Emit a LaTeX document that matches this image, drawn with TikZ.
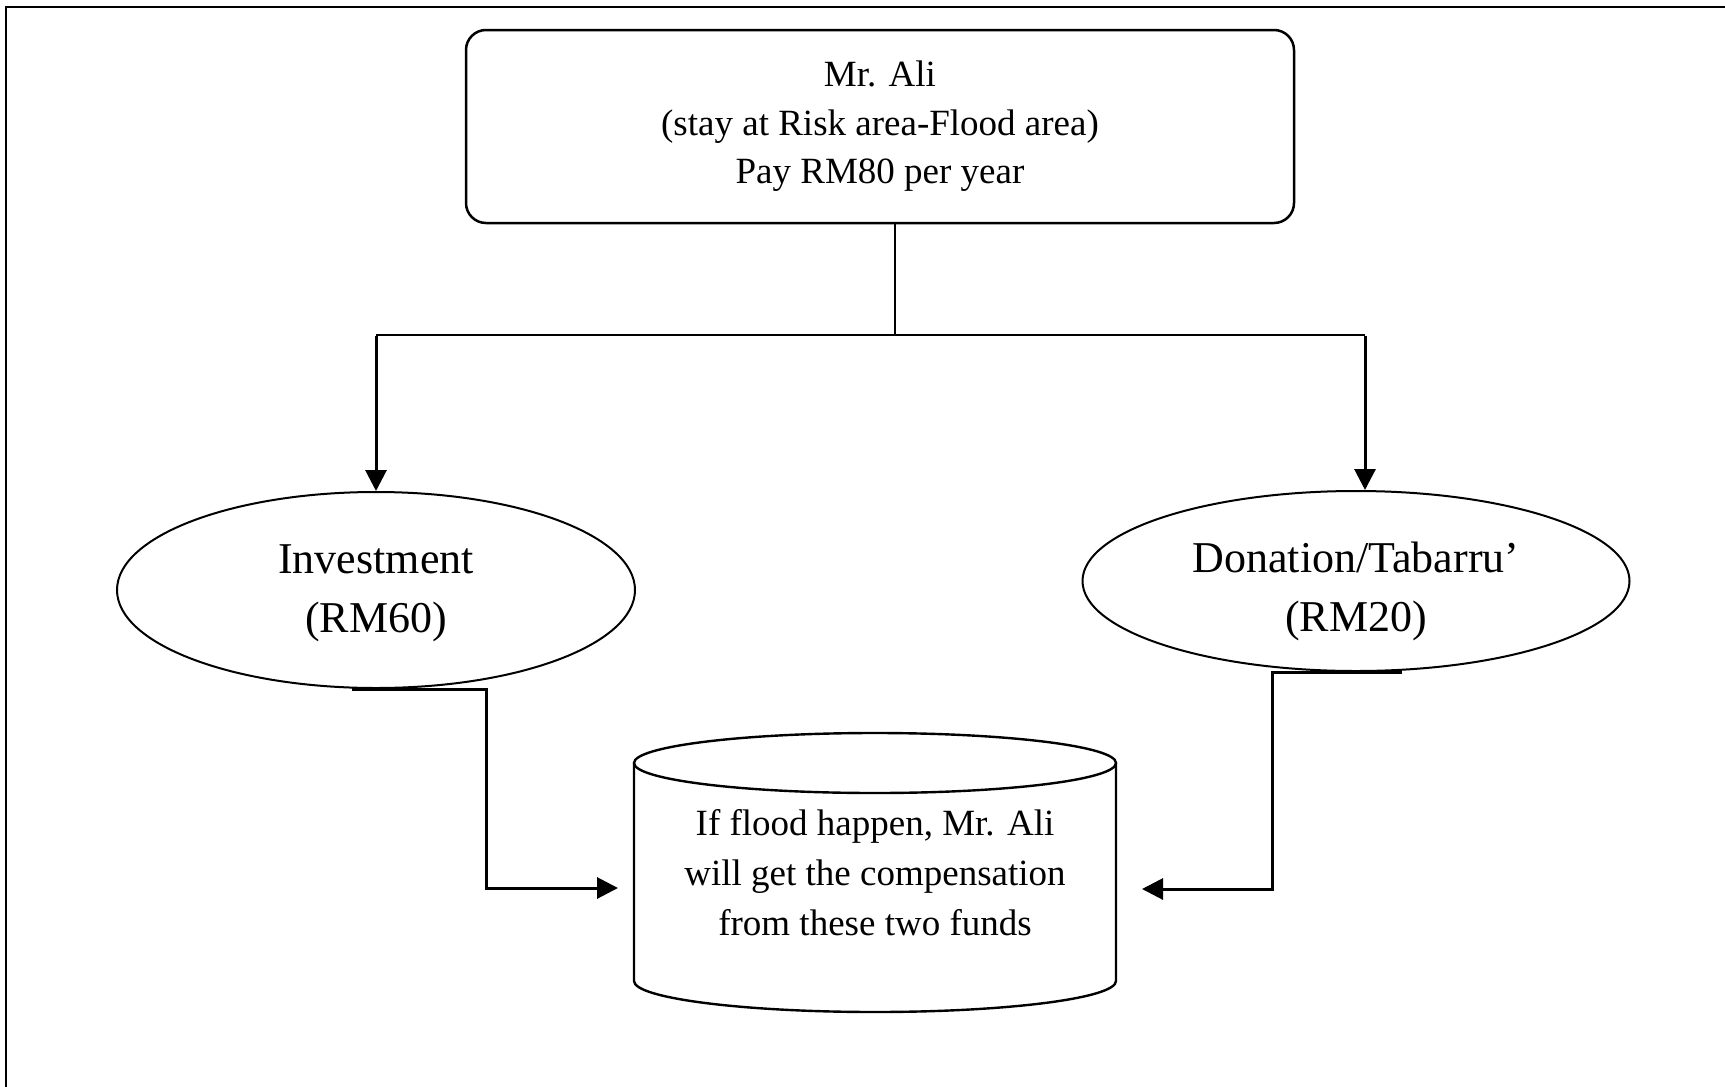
\documentclass[tikz,border=0pt]{standalone}
\usepackage{fontspec}
\setmainfont{Liberation Serif}
\usetikzlibrary{arrows.meta,shapes.geometric}

\begin{document}
\begin{tikzpicture}[x=0.5pt,y=-0.5pt,
  boxtext/.style={font=\fontsize{18.5}{24.2}\selectfont, align=center},
  roundbox/.style={draw, line width=1.25pt, rounded corners=10pt, inner sep=0pt},
  fundoval/.style={draw, ellipse, line width=1pt, inner sep=0pt},
  ovaltext/.style={font=\fontsize{22}{29.5}\selectfont, align=center, inner sep=0pt},
  link/.style={line width=1pt},
  arr/.style={line width=1.5pt, -{Triangle[length=10.5pt,width=10.5pt]}},
  feed/.style={line width=1.5pt, -{Triangle[length=10.5pt,width=10.5pt]}}
]
\useasboundingbox (0,0) rectangle (1725,1087);
\fill[white] (0,0) rectangle (1725,1087);

% page frame (top and left edges)
\draw[line width=1pt] (6,1087) -- (6,7) -- (1725,7);

% contributor
\node[roundbox, boxtext, minimum width=414pt, minimum height=96.5pt] (ali) at (880,126.5)
  {Mr. Ali\\(stay at Risk area-Flood area)\\Pay RM80 per year};

% the two funds
\node[fundoval, minimum width=259pt, minimum height=98pt] (inv) at (376,590) {};
\node[ovaltext] (invtext) at ([yshift=-1.5pt]inv.center) {Investment\\(RM60)};
\node[fundoval, minimum width=273.5pt, minimum height=90pt] (don) at (1356,581) {};
\node[ovaltext] (dontext) at ([yshift=-5pt]don.center) {Donation/Tabarru’\\(RM20)};

% compensation store (cylinder body holds the text)
\node[boxtext, font=\fontsize{18.5}{25}\selectfont, minimum width=241pt, minimum height=109pt, inner sep=0pt]
  (fund) at (875,873)
  {If flood happen, Mr. Ali\\will get the compensation\\from these two funds};
\draw[line width=1.2pt]
  (875,763) ellipse[x radius=241, y radius=30];
\draw[line width=1.2pt]
  (634,763) -- (634,981)
  arc[start angle=180, end angle=0, x radius=241, y radius=31]
  -- (1116,763);

% split of the payment
\coordinate (split) at (895,335);
\coordinate (lsplit) at (376,335);
\coordinate (rsplit) at (1365,335);
\draw[link] ([xshift=7.5pt]ali.south) -- (split);
\draw[link] (lsplit) -- (rsplit);
\draw[arr] ([yshift=-0.5pt]lsplit) -- (inv.north);
\draw[arr] ([yshift=-0.5pt]rsplit) -- (rsplit |- don.north);

% feeds into the store
\coordinate (lbend) at (486,888);
\coordinate (rbend) at (1272,889);
\draw[feed] ([xshift=-12pt]inv.south) -| (lbend) -- (618,888);
\draw[feed] ([xshift=23pt]don.south) -| (rbend) -- (1142,889);
\end{tikzpicture}
\end{document}
